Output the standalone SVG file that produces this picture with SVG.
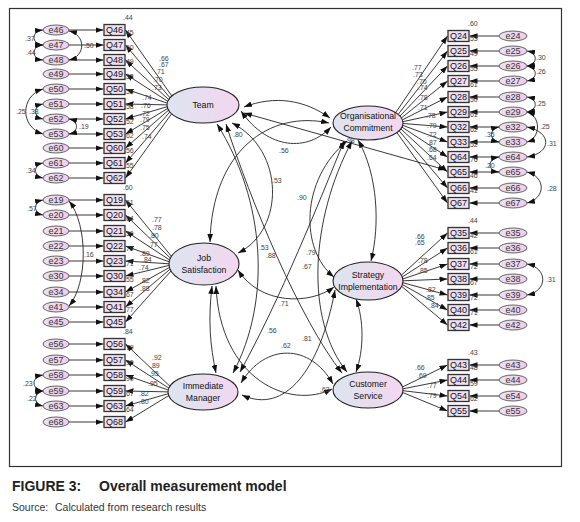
<svg xmlns="http://www.w3.org/2000/svg" width="580" height="522" viewBox="0 0 580 522">
<defs>
<linearGradient id="gl" x1="0" y1="0" x2="1" y2="0"><stop offset="0" stop-color="#dde5ef"/><stop offset="1" stop-color="#f3d6f0"/></linearGradient>
<linearGradient id="ge" x1="0" y1="0" x2="1" y2="0"><stop offset="0" stop-color="#ece2f1"/><stop offset="1" stop-color="#f1cbee"/></linearGradient>
<marker id="ah" viewBox="0 0 10 7" refX="10" refY="3.5" markerWidth="8" markerHeight="5.6" markerUnits="userSpaceOnUse" orient="auto-start-reverse"><path d="M0,0 L10,3.5 L0,7 z" fill="#111"/></marker>
<style>
text{font-family:"Liberation Sans",Arial,sans-serif}
.ln{stroke:#222;stroke-width:0.9;fill:none;marker-end:url(#ah)}
.cv{stroke:#222;stroke-width:0.9;fill:none;marker-start:url(#ah);marker-end:url(#ah)}
.obs{fill:#efdff2;stroke:#333;stroke-width:1.3}
.err{fill:url(#ge);stroke:#555;stroke-width:0.9}
.lat{fill:url(#gl);stroke:#222;stroke-width:1.1}
.qt{font-size:9px;text-anchor:middle;fill:#111}
.et{font-size:9px;text-anchor:middle;fill:#333}
.lt{font-size:8.7px;text-anchor:middle;fill:#111}
.n{font-size:7px;fill:#444}
</style>
</defs>
<rect x="9.5" y="8.5" width="552" height="458" fill="#fff" stroke="#333" stroke-width="1.2"/>

<g id="connectors">
<path class="ln" d="M171.8,96 L125.5,30"/>
<path class="ln" d="M170,97.8 L125.5,45"/>
<path class="ln" d="M168.7,99.6 L125.5,60"/>
<path class="ln" d="M167.7,101.3 L125.5,74"/>
<path class="ln" d="M167.2,103.1 L125.5,89"/>
<path class="ln" d="M167,104.9 L125.5,104"/>
<path class="ln" d="M167.2,106.7 L125.5,119"/>
<path class="ln" d="M167.6,108.5 L125.5,134"/>
<path class="ln" d="M168.5,110.2 L125.5,148"/>
<path class="ln" d="M169.8,112 L125.5,163"/>
<path class="ln" d="M171.6,113.8 L125.5,178"/>
<path class="ln" d="M171.4,256.3 L125.5,200"/>
<path class="ln" d="M170.4,258.1 L125.5,215"/>
<path class="ln" d="M169.6,260 L125.5,231"/>
<path class="ln" d="M169.2,261.8 L125.5,246"/>
<path class="ln" d="M169,263.8 L125.5,261"/>
<path class="ln" d="M169.1,265.4 L125.5,276"/>
<path class="ln" d="M169.5,267.4 L125.5,292"/>
<path class="ln" d="M170.1,269.2 L125.5,307"/>
<path class="ln" d="M171,271 L125.5,322"/>
<path class="ln" d="M169.9,386.2 L125.5,344"/>
<path class="ln" d="M168.9,388.2 L125.5,360"/>
<path class="ln" d="M168.2,390 L125.5,375"/>
<path class="ln" d="M168,391.9 L125.5,391"/>
<path class="ln" d="M168.2,393.7 L125.5,406"/>
<path class="ln" d="M168.7,395.6 L125.5,422"/>
<path class="ln" d="M395.7,112.6 L447.5,36"/>
<path class="ln" d="M398.2,114.4 L447.5,51"/>
<path class="ln" d="M399.9,116.2 L447.5,66"/>
<path class="ln" d="M401.3,118 L447.5,81"/>
<path class="ln" d="M402.3,119.9 L447.5,97"/>
<path class="ln" d="M402.8,121.7 L447.5,112"/>
<path class="ln" d="M403,123.5 L447.5,127"/>
<path class="ln" d="M402.7,125.3 L447.5,142"/>
<path class="ln" d="M402,127.1 L447.5,157"/>
<path class="ln" d="M400.8,128.9 L447.5,172"/>
<path class="ln" d="M399.1,130.8 L447.5,188"/>
<path class="ln" d="M396.9,132.6 L447.5,203"/>
<path class="ln" d="M401.3,275.2 L447.5,233"/>
<path class="ln" d="M402.2,277 L447.5,248"/>
<path class="ln" d="M402.7,279 L447.5,264"/>
<path class="ln" d="M403,280.8 L447.5,279"/>
<path class="ln" d="M402.9,282.7 L447.5,295"/>
<path class="ln" d="M402.4,284.5 L447.5,310"/>
<path class="ln" d="M401.6,286.3 L447.5,325"/>
<path class="ln" d="M402.5,387 L447.5,365"/>
<path class="ln" d="M403,388.8 L447.5,380"/>
<path class="ln" d="M403,390.7 L447.5,396"/>
<path class="ln" d="M402.7,392.5 L447.5,411"/>

<path class="ln" d="M69,30 H103.5"/><path class="ln" d="M69,45 H103.5"/><path class="ln" d="M69,60 H103.5"/><path class="ln" d="M69,74 H103.5"/>
<path class="ln" d="M69,89 H103.5"/><path class="ln" d="M69,104 H103.5"/><path class="ln" d="M69,119 H103.5"/><path class="ln" d="M69,134 H103.5"/>
<path class="ln" d="M69,148 H103.5"/><path class="ln" d="M69,163 H103.5"/><path class="ln" d="M69,178 H103.5"/>
<path class="ln" d="M69,200 H103.5"/><path class="ln" d="M69,215 H103.5"/><path class="ln" d="M69,231 H103.5"/><path class="ln" d="M69,246 H103.5"/>
<path class="ln" d="M69,261 H103.5"/><path class="ln" d="M69,276 H103.5"/><path class="ln" d="M69,292 H103.5"/><path class="ln" d="M69,307 H103.5"/><path class="ln" d="M69,322 H103.5"/>
<path class="ln" d="M69,344 H103.5"/><path class="ln" d="M69,360 H103.5"/><path class="ln" d="M69,375 H103.5"/><path class="ln" d="M69,391 H103.5"/><path class="ln" d="M69,406 H103.5"/><path class="ln" d="M69,422 H103.5"/>
<path class="ln" d="M499,36 H469.5"/><path class="ln" d="M499,51 H469.5"/><path class="ln" d="M499,66 H469.5"/><path class="ln" d="M499,81 H469.5"/>
<path class="ln" d="M499,97 H469.5"/><path class="ln" d="M499,112 H469.5"/><path class="ln" d="M499,127 H469.5"/><path class="ln" d="M499,142 H469.5"/>
<path class="ln" d="M499,157 H469.5"/><path class="ln" d="M499,172 H469.5"/><path class="ln" d="M499,188 H469.5"/><path class="ln" d="M499,203 H469.5"/>
<path class="ln" d="M499,233 H469.5"/><path class="ln" d="M499,248 H469.5"/><path class="ln" d="M499,264 H469.5"/><path class="ln" d="M499,279 H469.5"/>
<path class="ln" d="M499,295 H469.5"/><path class="ln" d="M499,310 H469.5"/><path class="ln" d="M499,325 H469.5"/>
<path class="ln" d="M499,365 H469.5"/><path class="ln" d="M499,380 H469.5"/><path class="ln" d="M499,396 H469.5"/><path class="ln" d="M499,411 H469.5"/>

<path class="cv" d="M43,30 C31,31 31,44 43,45"/>
<path class="cv" d="M43,45 C31,46 31,59 43,60"/>
<path class="cv" d="M69,31 C86,35 86,56 69,60"/>
<path class="cv" d="M43,89 C20,96 20,127 43,134"/>
<path class="cv" d="M43,104 C33,106 33,117 43,119"/>
<path class="cv" d="M69,119 C79,121 79,132 69,134"/>
<path class="cv" d="M43,163 C33,165 33,176 43,178"/>
<path class="cv" d="M43,200 C33,202 33,213 43,215"/>
<path class="cv" d="M69,201 C88,225 88,283 69,306"/>
<path class="cv" d="M43,375 C31,377 31,389 43,391"/>
<path class="cv" d="M43,391 C33,393 33,404 43,406"/>
<path class="cv" d="M527,51 C538,53 538,64 527,66"/>
<path class="cv" d="M527,66 C538,68 538,79 527,81"/>
<path class="cv" d="M527,97 C538,99 538,110 527,112"/>
<path class="cv" d="M527,112 C541,116 541,138 527,142"/>
<path class="cv" d="M527,127 C552,132 552,153 527,157"/>
<path class="cv" d="M499,127 C489,129 489,140 499,142"/>
<path class="cv" d="M499,157 C487,159 487,171 499,172"/>
<path class="cv" d="M527,172 C546,177 546,198 527,203"/>
<path class="cv" d="M527,264 C548,268 548,291 527,295"/>

<path class="cv" d="M241,111 C268,150 308,152 331,127"/>
<path class="cv" d="M244,107 C275,95 305,100 330,118"/>
<path class="cv" d="M244,113 L446,170"/>
<path class="cv" d="M329,123 C270,110 212,150 210,242"/>
<path class="cv" d="M232,123 C285,150 285,230 238,253"/>
<path class="cv" d="M217,124 C265,200 272,300 233,373"/>
<path class="cv" d="M226,124 C250,200 300,320 342,373"/>
<path class="cv" d="M344,141 C320,200 280,300 240,372"/>
<path class="cv" d="M347,141 C300,180 300,250 334,277"/>
<path class="cv" d="M352,141 C310,220 305,320 347,372"/>
<path class="cv" d="M358,140 C378,175 380,225 371,261"/>
<path class="cv" d="M238,270 C260,305 310,305 334,287"/>
<path class="cv" d="M212,286 C208,320 210,345 216,373"/>
<path class="cv" d="M216,286 C220,380 290,410 332,389"/>
<path class="cv" d="M242,395 C285,415 320,370 335,290"/>
<path class="cv" d="M241,383 C265,343 310,343 333,384"/>
<path class="cv" d="M356,299 C364,320 364,350 356,372"/>
</g>

<g id="latent-Team"><ellipse class="lat" cx="203" cy="105" rx="36" ry="18"/><text class="lt" x="203" y="108">Team</text></g>
<g id="latent-Org"><ellipse class="lat" cx="368" cy="123" rx="35" ry="17"/><text class="lt" x="368" y="119">Organisational</text><text class="lt" x="368" y="131">Commitment</text></g>
<g id="latent-Job"><ellipse class="lat" cx="204" cy="264" rx="35" ry="21"/><text class="lt" x="204" y="261">Job</text><text class="lt" x="204" y="273">Satisfaction</text></g>
<g id="latent-Strategy"><ellipse class="lat" cx="368" cy="281" rx="35" ry="19"/><text class="lt" x="368" y="278">Strategy</text><text class="lt" x="368" y="290">Implementation</text></g>
<g id="latent-Manager"><ellipse class="lat" cx="203" cy="392" rx="35" ry="18"/><text class="lt" x="203" y="389">Immediate</text><text class="lt" x="203" y="401">Manager</text></g>
<g id="latent-Customer"><ellipse class="lat" cx="368" cy="390" rx="35" ry="18"/><text class="lt" x="368" y="387">Customer</text><text class="lt" x="368" y="399">Service</text></g>

<g id="Q46"><rect class="obs" x="104" y="24.5" width="21" height="11"/><text class="qt" x="114.5" y="33.2">Q46</text></g>
<g id="Q47"><rect class="obs" x="104" y="39.5" width="21" height="11"/><text class="qt" x="114.5" y="48.2">Q47</text></g>
<g id="Q48"><rect class="obs" x="104" y="54.5" width="21" height="11"/><text class="qt" x="114.5" y="63.2">Q48</text></g>
<g id="Q49"><rect class="obs" x="104" y="68.5" width="21" height="11"/><text class="qt" x="114.5" y="77.2">Q49</text></g>
<g id="Q50"><rect class="obs" x="104" y="83.5" width="21" height="11"/><text class="qt" x="114.5" y="92.2">Q50</text></g>
<g id="Q51"><rect class="obs" x="104" y="98.5" width="21" height="11"/><text class="qt" x="114.5" y="107.2">Q51</text></g>
<g id="Q52"><rect class="obs" x="104" y="113.5" width="21" height="11"/><text class="qt" x="114.5" y="122.2">Q52</text></g>
<g id="Q53"><rect class="obs" x="104" y="128.5" width="21" height="11"/><text class="qt" x="114.5" y="137.2">Q53</text></g>
<g id="Q60"><rect class="obs" x="104" y="142.5" width="21" height="11"/><text class="qt" x="114.5" y="151.2">Q60</text></g>
<g id="Q61"><rect class="obs" x="104" y="157.5" width="21" height="11"/><text class="qt" x="114.5" y="166.2">Q61</text></g>
<g id="Q62"><rect class="obs" x="104" y="172.5" width="21" height="11"/><text class="qt" x="114.5" y="181.2">Q62</text></g>
<g id="Q19"><rect class="obs" x="104" y="194.5" width="21" height="11"/><text class="qt" x="114.5" y="203.2">Q19</text></g>
<g id="Q20"><rect class="obs" x="104" y="209.5" width="21" height="11"/><text class="qt" x="114.5" y="218.2">Q20</text></g>
<g id="Q21"><rect class="obs" x="104" y="225.5" width="21" height="11"/><text class="qt" x="114.5" y="234.2">Q21</text></g>
<g id="Q22"><rect class="obs" x="104" y="240.5" width="21" height="11"/><text class="qt" x="114.5" y="249.2">Q22</text></g>
<g id="Q23"><rect class="obs" x="104" y="255.5" width="21" height="11"/><text class="qt" x="114.5" y="264.2">Q23</text></g>
<g id="Q30"><rect class="obs" x="104" y="270.5" width="21" height="11"/><text class="qt" x="114.5" y="279.2">Q30</text></g>
<g id="Q34"><rect class="obs" x="104" y="286.5" width="21" height="11"/><text class="qt" x="114.5" y="295.2">Q34</text></g>
<g id="Q41"><rect class="obs" x="104" y="301.5" width="21" height="11"/><text class="qt" x="114.5" y="310.2">Q41</text></g>
<g id="Q45"><rect class="obs" x="104" y="316.5" width="21" height="11"/><text class="qt" x="114.5" y="325.2">Q45</text></g>
<g id="Q56"><rect class="obs" x="104" y="338.5" width="21" height="11"/><text class="qt" x="114.5" y="347.2">Q56</text></g>
<g id="Q57"><rect class="obs" x="104" y="354.5" width="21" height="11"/><text class="qt" x="114.5" y="363.2">Q57</text></g>
<g id="Q58"><rect class="obs" x="104" y="369.5" width="21" height="11"/><text class="qt" x="114.5" y="378.2">Q58</text></g>
<g id="Q59"><rect class="obs" x="104" y="385.5" width="21" height="11"/><text class="qt" x="114.5" y="394.2">Q59</text></g>
<g id="Q63"><rect class="obs" x="104" y="400.5" width="21" height="11"/><text class="qt" x="114.5" y="409.2">Q63</text></g>
<g id="Q68"><rect class="obs" x="104" y="416.5" width="21" height="11"/><text class="qt" x="114.5" y="425.2">Q68</text></g>

<g id="e46"><ellipse class="err" cx="56" cy="30" rx="13" ry="5"/><text class="et" x="56" y="33.2">e46</text></g>
<g id="e47"><ellipse class="err" cx="56" cy="45" rx="13" ry="5"/><text class="et" x="56" y="48.2">e47</text></g>
<g id="e48"><ellipse class="err" cx="56" cy="60" rx="13" ry="5"/><text class="et" x="56" y="63.2">e48</text></g>
<g id="e49"><ellipse class="err" cx="56" cy="74" rx="13" ry="5"/><text class="et" x="56" y="77.2">e49</text></g>
<g id="e50"><ellipse class="err" cx="56" cy="89" rx="13" ry="5"/><text class="et" x="56" y="92.2">e50</text></g>
<g id="e51"><ellipse class="err" cx="56" cy="104" rx="13" ry="5"/><text class="et" x="56" y="107.2">e51</text></g>
<g id="e52"><ellipse class="err" cx="56" cy="119" rx="13" ry="5"/><text class="et" x="56" y="122.2">e52</text></g>
<g id="e53"><ellipse class="err" cx="56" cy="134" rx="13" ry="5"/><text class="et" x="56" y="137.2">e53</text></g>
<g id="e60"><ellipse class="err" cx="56" cy="148" rx="13" ry="5"/><text class="et" x="56" y="151.2">e60</text></g>
<g id="e61"><ellipse class="err" cx="56" cy="163" rx="13" ry="5"/><text class="et" x="56" y="166.2">e61</text></g>
<g id="e62"><ellipse class="err" cx="56" cy="178" rx="13" ry="5"/><text class="et" x="56" y="181.2">e62</text></g>
<g id="e19"><ellipse class="err" cx="56" cy="200" rx="13" ry="5"/><text class="et" x="56" y="203.2">e19</text></g>
<g id="e20"><ellipse class="err" cx="56" cy="215" rx="13" ry="5"/><text class="et" x="56" y="218.2">e20</text></g>
<g id="e21"><ellipse class="err" cx="56" cy="231" rx="13" ry="5"/><text class="et" x="56" y="234.2">e21</text></g>
<g id="e22"><ellipse class="err" cx="56" cy="246" rx="13" ry="5"/><text class="et" x="56" y="249.2">e22</text></g>
<g id="e23"><ellipse class="err" cx="56" cy="261" rx="13" ry="5"/><text class="et" x="56" y="264.2">e23</text></g>
<g id="e30"><ellipse class="err" cx="56" cy="276" rx="13" ry="5"/><text class="et" x="56" y="279.2">e30</text></g>
<g id="e34"><ellipse class="err" cx="56" cy="292" rx="13" ry="5"/><text class="et" x="56" y="295.2">e34</text></g>
<g id="e41"><ellipse class="err" cx="56" cy="307" rx="13" ry="5"/><text class="et" x="56" y="310.2">e41</text></g>
<g id="e45"><ellipse class="err" cx="56" cy="322" rx="13" ry="5"/><text class="et" x="56" y="325.2">e45</text></g>
<g id="e56"><ellipse class="err" cx="56" cy="344" rx="13" ry="5"/><text class="et" x="56" y="347.2">e56</text></g>
<g id="e57"><ellipse class="err" cx="56" cy="360" rx="13" ry="5"/><text class="et" x="56" y="363.2">e57</text></g>
<g id="e58"><ellipse class="err" cx="56" cy="375" rx="13" ry="5"/><text class="et" x="56" y="378.2">e58</text></g>
<g id="e59"><ellipse class="err" cx="56" cy="391" rx="13" ry="5"/><text class="et" x="56" y="394.2">e59</text></g>
<g id="e63"><ellipse class="err" cx="56" cy="406" rx="13" ry="5"/><text class="et" x="56" y="409.2">e63</text></g>
<g id="e68"><ellipse class="err" cx="56" cy="422" rx="13" ry="5"/><text class="et" x="56" y="425.2">e68</text></g>

<g id="Q24"><rect class="obs" x="448" y="30.5" width="21" height="11"/><text class="qt" x="458.5" y="39.2">Q24</text></g>
<g id="Q25"><rect class="obs" x="448" y="45.5" width="21" height="11"/><text class="qt" x="458.5" y="54.2">Q25</text></g>
<g id="Q26"><rect class="obs" x="448" y="60.5" width="21" height="11"/><text class="qt" x="458.5" y="69.2">Q26</text></g>
<g id="Q27"><rect class="obs" x="448" y="75.5" width="21" height="11"/><text class="qt" x="458.5" y="84.2">Q27</text></g>
<g id="Q28"><rect class="obs" x="448" y="91.5" width="21" height="11"/><text class="qt" x="458.5" y="100.2">Q28</text></g>
<g id="Q29"><rect class="obs" x="448" y="106.5" width="21" height="11"/><text class="qt" x="458.5" y="115.2">Q29</text></g>
<g id="Q32"><rect class="obs" x="448" y="121.5" width="21" height="11"/><text class="qt" x="458.5" y="130.2">Q32</text></g>
<g id="Q33"><rect class="obs" x="448" y="136.5" width="21" height="11"/><text class="qt" x="458.5" y="145.2">Q33</text></g>
<g id="Q64"><rect class="obs" x="448" y="151.5" width="21" height="11"/><text class="qt" x="458.5" y="160.2">Q64</text></g>
<g id="Q65"><rect class="obs" x="448" y="166.5" width="21" height="11"/><text class="qt" x="458.5" y="175.2">Q65</text></g>
<g id="Q66"><rect class="obs" x="448" y="182.5" width="21" height="11"/><text class="qt" x="458.5" y="191.2">Q66</text></g>
<g id="Q67"><rect class="obs" x="448" y="197.5" width="21" height="11"/><text class="qt" x="458.5" y="206.2">Q67</text></g>
<g id="Q35"><rect class="obs" x="448" y="227.5" width="21" height="11"/><text class="qt" x="458.5" y="236.2">Q35</text></g>
<g id="Q36"><rect class="obs" x="448" y="242.5" width="21" height="11"/><text class="qt" x="458.5" y="251.2">Q36</text></g>
<g id="Q37"><rect class="obs" x="448" y="258.5" width="21" height="11"/><text class="qt" x="458.5" y="267.2">Q37</text></g>
<g id="Q38"><rect class="obs" x="448" y="273.5" width="21" height="11"/><text class="qt" x="458.5" y="282.2">Q38</text></g>
<g id="Q39"><rect class="obs" x="448" y="289.5" width="21" height="11"/><text class="qt" x="458.5" y="298.2">Q39</text></g>
<g id="Q40"><rect class="obs" x="448" y="304.5" width="21" height="11"/><text class="qt" x="458.5" y="313.2">Q40</text></g>
<g id="Q42"><rect class="obs" x="448" y="319.5" width="21" height="11"/><text class="qt" x="458.5" y="328.2">Q42</text></g>
<g id="Q43"><rect class="obs" x="448" y="359.5" width="21" height="11"/><text class="qt" x="458.5" y="368.2">Q43</text></g>
<g id="Q44"><rect class="obs" x="448" y="374.5" width="21" height="11"/><text class="qt" x="458.5" y="383.2">Q44</text></g>
<g id="Q54"><rect class="obs" x="448" y="390.5" width="21" height="11"/><text class="qt" x="458.5" y="399.2">Q54</text></g>
<g id="Q55"><rect class="obs" x="448" y="405.5" width="21" height="11"/><text class="qt" x="458.5" y="414.2">Q55</text></g>

<g id="e24"><ellipse class="err" cx="513" cy="36" rx="14" ry="5"/><text class="et" x="513" y="39.2">e24</text></g>
<g id="e25"><ellipse class="err" cx="513" cy="51" rx="14" ry="5"/><text class="et" x="513" y="54.2">e25</text></g>
<g id="e26"><ellipse class="err" cx="513" cy="66" rx="14" ry="5"/><text class="et" x="513" y="69.2">e26</text></g>
<g id="e27"><ellipse class="err" cx="513" cy="81" rx="14" ry="5"/><text class="et" x="513" y="84.2">e27</text></g>
<g id="e28"><ellipse class="err" cx="513" cy="97" rx="14" ry="5"/><text class="et" x="513" y="100.2">e28</text></g>
<g id="e29"><ellipse class="err" cx="513" cy="112" rx="14" ry="5"/><text class="et" x="513" y="115.2">e29</text></g>
<g id="e32"><ellipse class="err" cx="513" cy="127" rx="14" ry="5"/><text class="et" x="513" y="130.2">e32</text></g>
<g id="e33"><ellipse class="err" cx="513" cy="142" rx="14" ry="5"/><text class="et" x="513" y="145.2">e33</text></g>
<g id="e64"><ellipse class="err" cx="513" cy="157" rx="14" ry="5"/><text class="et" x="513" y="160.2">e64</text></g>
<g id="e65"><ellipse class="err" cx="513" cy="172" rx="14" ry="5"/><text class="et" x="513" y="175.2">e65</text></g>
<g id="e66"><ellipse class="err" cx="513" cy="188" rx="14" ry="5"/><text class="et" x="513" y="191.2">e66</text></g>
<g id="e67"><ellipse class="err" cx="513" cy="203" rx="14" ry="5"/><text class="et" x="513" y="206.2">e67</text></g>
<g id="e35"><ellipse class="err" cx="513" cy="233" rx="14" ry="5"/><text class="et" x="513" y="236.2">e35</text></g>
<g id="e36"><ellipse class="err" cx="513" cy="248" rx="14" ry="5"/><text class="et" x="513" y="251.2">e36</text></g>
<g id="e37"><ellipse class="err" cx="513" cy="264" rx="14" ry="5"/><text class="et" x="513" y="267.2">e37</text></g>
<g id="e38"><ellipse class="err" cx="513" cy="279" rx="14" ry="5"/><text class="et" x="513" y="282.2">e38</text></g>
<g id="e39"><ellipse class="err" cx="513" cy="295" rx="14" ry="5"/><text class="et" x="513" y="298.2">e39</text></g>
<g id="e40"><ellipse class="err" cx="513" cy="310" rx="14" ry="5"/><text class="et" x="513" y="313.2">e40</text></g>
<g id="e42"><ellipse class="err" cx="513" cy="325" rx="14" ry="5"/><text class="et" x="513" y="328.2">e42</text></g>
<g id="e43"><ellipse class="err" cx="513" cy="365" rx="14" ry="5"/><text class="et" x="513" y="368.2">e43</text></g>
<g id="e44"><ellipse class="err" cx="513" cy="380" rx="14" ry="5"/><text class="et" x="513" y="383.2">e44</text></g>
<g id="e54"><ellipse class="err" cx="513" cy="396" rx="14" ry="5"/><text class="et" x="513" y="399.2">e54</text></g>
<g id="e55"><ellipse class="err" cx="513" cy="411" rx="14" ry="5"/><text class="et" x="513" y="414.2">e55</text></g>

<g id="labels">
<text class="n" x="123" y="19.5">.44</text><text class="n" x="124" y="34.5">.45</text><text class="n" x="124" y="49.5">.50</text><text class="n" x="124" y="63.5">.49</text>
<text class="n" x="124" y="78.5">.53</text><text class="n" x="124" y="93.5">.55</text><text class="n" x="124" y="108.5">.58</text><text class="n" x="124" y="123.5">.52</text>
<text class="n" x="124" y="137.5">.62</text><text class="n" x="124" y="152.5">.56</text><text class="n" x="124" y="167.5">.55</text>
<text class="n" x="123" y="189.5">.60</text><text class="n" x="124" y="204.5">.61</text><text class="n" x="124" y="220.5">.64</text><text class="n" x="124" y="235.5">.59</text>
<text class="n" x="124" y="250.5">.79</text><text class="n" x="124" y="265.5">.71</text><text class="n" x="124" y="281.5">.55</text><text class="n" x="124" y="296.5">.67</text><text class="n" x="124" y="311.5">.77</text>
<text class="n" x="123" y="333.5">.84</text><text class="n" x="124" y="349.5">.79</text><text class="n" x="124" y="364.5">.90</text><text class="n" x="124" y="380.5">.90</text><text class="n" x="124" y="395.5">.67</text><text class="n" x="124" y="411.5">.64</text>
<text class="n" x="468" y="25.5">.60</text><text class="n" x="468" y="40.5">.53</text><text class="n" x="468" y="55.5">.49</text><text class="n" x="468" y="70.5">.55</text>
<text class="n" x="468" y="86.5">.61</text><text class="n" x="468" y="101.5">.50</text><text class="n" x="468" y="116.5">.61</text><text class="n" x="468" y="131.5">.62</text>
<text class="n" x="468" y="146.5">.52</text><text class="n" x="468" y="161.5">.76</text><text class="n" x="468" y="177.5">.46</text><text class="n" x="468" y="192.5">.41</text>
<text class="n" x="468" y="222.5">.44</text><text class="n" x="468" y="237.5">.42</text><text class="n" x="468" y="253.5">.61</text><text class="n" x="468" y="268.5">.72</text>
<text class="n" x="468" y="284.5">.67</text><text class="n" x="468" y="299.5">.72</text><text class="n" x="468" y="314.5">.71</text>
<text class="n" x="468" y="354.5">.43</text><text class="n" x="468" y="369.5">.48</text><text class="n" x="468" y="385.5">.59</text><text class="n" x="468" y="400.5">.62</text>
<text class="n" x="159" y="61">.66</text><text class="n" x="159" y="67">.67</text><text class="n" x="155" y="74">.71</text><text class="n" x="153" y="82">.70</text>
<text class="n" x="152" y="90">.73</text><text class="n" x="142" y="100">.74</text><text class="n" x="141" y="108">.76</text><text class="n" x="140" y="116">.72</text>
<text class="n" x="140" y="122">.79</text><text class="n" x="140" y="130">.75</text><text class="n" x="142" y="139">.74</text>
<text class="n" x="152" y="222">.77</text><text class="n" x="152" y="230">.78</text><text class="n" x="149" y="238">.80</text><text class="n" x="148" y="247">.77</text>
<text class="n" x="140" y="256">.89</text><text class="n" x="142" y="262">.84</text><text class="n" x="139" y="269.5">.74</text><text class="n" x="140" y="283">.82</text><text class="n" x="140" y="291">.88</text>
<text class="n" x="152" y="360">.92</text><text class="n" x="150" y="368">.89</text><text class="n" x="149" y="376">.95</text><text class="n" x="148" y="386">.95</text><text class="n" x="139" y="396">.82</text><text class="n" x="139" y="404">.80</text>
<text class="n" x="412" y="70">.77</text><text class="n" x="413" y="77">.73</text><text class="n" x="417" y="84">.70</text><text class="n" x="418" y="90">.74</text>
<text class="n" x="418" y="100">.78</text><text class="n" x="418" y="110">.71</text><text class="n" x="426" y="118">.78</text><text class="n" x="427" y="128">.79</text>
<text class="n" x="427" y="137">.72</text><text class="n" x="427" y="145">.87</text><text class="n" x="427" y="152">.68</text><text class="n" x="427" y="160">.64</text>
<text class="n" x="415" y="239">.66</text><text class="n" x="415" y="245">.65</text><text class="n" x="418" y="263">.78</text><text class="n" x="418" y="273">.85</text>
<text class="n" x="426" y="292">.82</text><text class="n" x="425" y="299.5">.85</text><text class="n" x="429" y="307.5">.84</text>
<text class="n" x="415" y="370">.66</text><text class="n" x="417" y="378">.69</text><text class="n" x="427" y="388">.77</text><text class="n" x="427" y="398">.79</text>
<text class="n" x="25" y="41">.37</text><text class="n" x="26" y="55">.44</text><text class="n" x="84" y="48">.50</text>
<text class="n" x="16" y="114">.25</text><text class="n" x="29" y="114">.38</text><text class="n" x="79" y="129">.19</text><text class="n" x="26" y="173">.34</text>
<text class="n" x="27" y="211">.57</text><text class="n" x="84" y="257">.16</text>
<text class="n" x="23" y="386">.23</text><text class="n" x="27" y="401">.22</text>
<text class="n" x="536" y="60">.30</text><text class="n" x="536" y="74">.26</text><text class="n" x="536" y="106">.25</text>
<text class="n" x="540" y="129">.25</text><text class="n" x="485" y="137">.35</text><text class="n" x="547" y="146">.31</text>
<text class="n" x="485" y="168">.20</text><text class="n" x="547" y="191">.28</text><text class="n" x="546" y="282">.31</text>
<text class="n" x="233" y="137">.80</text><text class="n" x="279" y="153">.56</text><text class="n" x="272" y="183">.53</text>
<text class="n" x="297" y="200">.90</text><text class="n" x="345" y="143">.98</text>
<text class="n" x="259" y="250">.53</text><text class="n" x="266" y="258">.88</text><text class="n" x="306" y="255">.79</text><text class="n" x="302" y="269">.67</text>
<text class="n" x="279" y="306">.71</text><text class="n" x="267" y="333">.56</text><text class="n" x="302" y="341">.81</text><text class="n" x="281" y="348">.62</text><text class="n" x="320" y="392">.63</text>
</g>

<g id="caption">
<text x="12" y="491" font-size="14" font-weight="bold" fill="#222">FIGURE 3:</text>
<text x="99" y="491" font-size="14" font-weight="bold" fill="#222">Overall measurement model</text>
<text x="12" y="511" font-size="10.5" fill="#333">Source:</text>
<text x="55" y="511" font-size="10.5" fill="#333">Calculated from research results</text>
</g>
</svg>
